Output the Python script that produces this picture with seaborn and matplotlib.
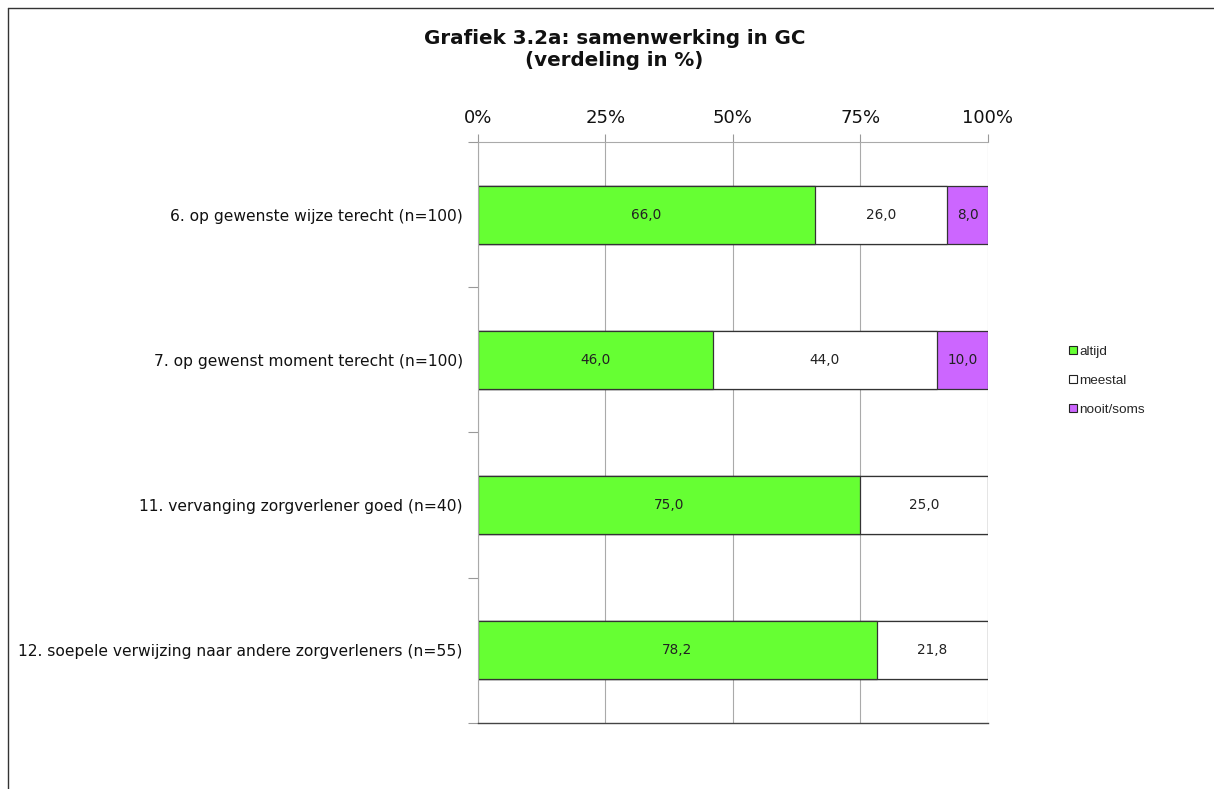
import numpy as np
import pandas as pd
import matplotlib
matplotlib.use("Agg")
import matplotlib.pyplot as plt
from matplotlib.lines import Line2D
import seaborn as sns

# data
categories = [
    "6. op gewenste wijze terecht (n=100)",
    "7. op gewenst moment terecht (n=100)",
    "11. vervanging zorgverlener goed (n=40)",
    "12. soepele verwijzing naar andere zorgverleners (n=55)",
]
altijd = [66.0, 46.0, 75.0, 78.2]
meestal = [26.0, 44.0, 25.0, 21.8]
nooit_soms = [8.0, 10.0, 0.0, 0.0]

series_names = ["altijd", "meestal", "nooit/soms"]
series_colors = ["#66FF33", "#FFFFFF", "#CC66FF"]
x_ticks = [0, 25, 50, 75, 100]

sns.set_theme(style="white")
plt.rcParams["font.family"] = ["DejaVu Sans"]

df = pd.DataFrame({
    "categorie": categories,
    "altijd": altijd,
    "meestal": meestal,
    "nooit/soms": nooit_soms,
})
# cumulative values, so the stacked bars can be layered
df["cum1"] = df["altijd"]
df["cum2"] = df["altijd"] + df["meestal"]
df["cum3"] = df["cum2"] + df["nooit/soms"]

fig = plt.figure(figsize=(12.14, 7.89), dpi=100)
ax = fig.add_axes([0.3937, 0.0837, 0.4201, 0.7364])

bar_kw = dict(orient="h", width=0.4, edgecolor="#333333", linewidth=0.9,
              saturation=1, ax=ax)
sns.barplot(data=df, x="cum3", y="categorie", color=series_colors[2], **bar_kw)
sns.barplot(data=df, x="cum2", y="categorie", color=series_colors[1], **bar_kw)
sns.barplot(data=df, x="cum1", y="categorie", color=series_colors[0], **bar_kw)

# value labels in the middle of each segment
for i, row in df.iterrows():
    lefts = [0, row["cum1"], row["cum2"]]
    vals = [row["altijd"], row["meestal"], row["nooit/soms"]]
    for left, v in zip(lefts, vals):
        if v > 0:
            ax.text(left + v / 2, i, f"{v:.1f}".replace(".", ","),
                    ha="center", va="center", fontsize=9.8, color="#222222")

ax.set_xlim(0, 100)
ax.set_ylim(len(categories) - 0.5, -0.5)
ax.set_xlabel("")
ax.set_ylabel("")

ax.xaxis.tick_top()
ax.set_xticks(x_ticks)
ax.set_xticklabels([f"{t}%" for t in x_ticks], fontsize=13, color="#111111")
ax.tick_params(axis="x", length=6, width=0.8, color="#999999", pad=5,
               top=True, bottom=False)

ax.set_yticks(range(len(categories)))
ax.set_yticklabels(categories, fontsize=11.2, color="#111111")
ax.set_yticks(np.arange(-0.5, len(categories), 1), minor=True)
ax.tick_params(axis="y", which="major", length=0, pad=11)
ax.tick_params(axis="y", which="minor", length=7, width=0.8, color="#999999",
               left=True)

ax.grid(axis="x", color="#AAAAAA", linewidth=0.8)
ax.set_axisbelow(True)
for side in ["left", "top"]:
    ax.spines[side].set_color("#AAAAAA")
    ax.spines[side].set_linewidth(0.8)
ax.spines["bottom"].set_color("#444444")
ax.spines["bottom"].set_linewidth(1.0)
ax.spines["right"].set_visible(False)

fig.text(0.506, 0.963, "Grafiek 3.2a: samenwerking in GC\n(verdeling in %)",
         ha="center", va="top", fontsize=14.3, fontweight="bold",
         linespacing=1.2, color="#111111")

handles = [
    Line2D([], [], linestyle="none", marker="s", markersize=6,
           markerfacecolor=c, markeredgecolor="#222222", markeredgewidth=0.8)
    for c in series_colors
]
fig.legend(handles, series_names, loc="upper left",
           bbox_to_anchor=(0.868, 0.578), frameon=False,
           prop={"family": "Liberation Sans", "size": 9.7},
           handletextpad=0.0, handlelength=1.0, labelspacing=1.25)

# chart frame border, partially visible in the reference
fig.add_artist(Line2D([0.0066, 1.0], [0.9899, 0.9899], color="#333333",
                      linewidth=1.0, transform=fig.transFigure))
fig.add_artist(Line2D([0.0066, 0.0066], [0.0, 0.9899], color="#333333",
                      linewidth=1.0, transform=fig.transFigure))

fig.savefig("out.png", dpi=100)
